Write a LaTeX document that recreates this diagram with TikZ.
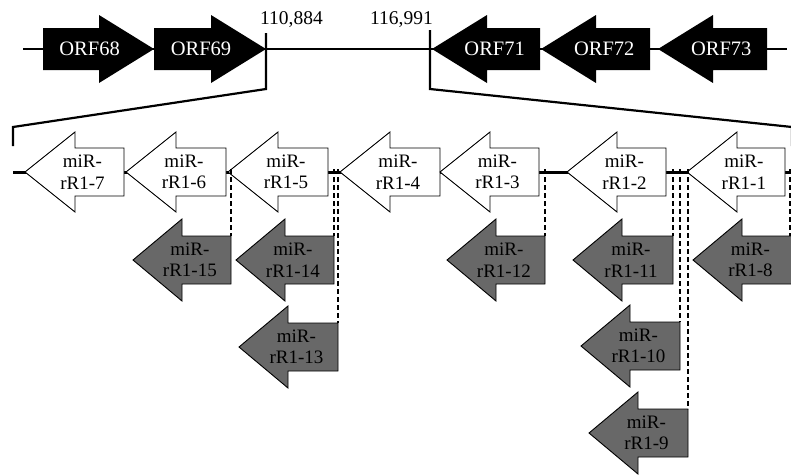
\documentclass[tikz,border=0pt]{standalone}
\usepackage{fontspec}
\setmainfont{Liberation Serif}
\usetikzlibrary{calc}
\definecolor{mirGrey}{RGB}{104,104,104}

% arrow-shaped gene: style, name, tail x, tip x, y, body half, head half, head length, label
\newcommand{\genearrow}[9]{%
  \pgfmathsetmacro\gaBase{#4-sign(#4-#3)*#8}%
  \path[#1] (#3,#5-#6) -- (\gaBase,#5-#6) -- (\gaBase,#5-#7) -- (#4,#5)
    -- (\gaBase,#5+#7) -- (\gaBase,#5+#6) -- (#3,#5+#6) -- cycle;
  \coordinate (#2-tail) at (#3,#5-#6);
  \node[#1 text] (#2) at ({#3+0.42*(#4-#3)},#5) {#9};}

\begin{document}
\begin{tikzpicture}[x=1pt, y=-1pt,
    orf/.style={fill=black},
    orf text/.style={inner sep=0pt, text=white, font=\fontsize{20.5}{22}\selectfont},
    mirw/.style={draw=black, fill=white, line width=0.9pt},
    mirg/.style={draw=black, fill=mirGrey, line width=0.9pt},
    mirw text/.style={inner sep=0pt, align=center, font=\fontsize{19}{21.5}\selectfont},
    mirg text/.style={mirw text},
    poslbl/.style={inner sep=0pt, font=\fontsize{19.5}{21}\selectfont},
    cutline/.style={line width=2.2pt},
    spine/.style={line width=2.2pt},
    link/.style={line width=1.4pt, dash pattern=on 5pt off 3pt}
  ]
  \useasboundingbox (0,0) rectangle (791,475);

  % genome region
  \coordinate (topL) at (23,49);
  \coordinate (topR) at (787,49);
  \draw[spine] (topL) -- (topR);
  \genearrow{orf}{orf68}{43}{154}{49}{21}{34}{55}{ORF68}
  \genearrow{orf}{orf69}{154}{266}{49}{21}{34}{55}{ORF69}
  \genearrow{orf}{orf71}{540}{432}{49}{21}{34}{55}{ORF71}
  \genearrow{orf}{orf72}{650}{541}{49}{21}{34}{55}{ORF72}
  \genearrow{orf}{orf73}{767}{658}{49}{21}{34}{55}{ORF73}

  \node[poslbl, anchor=base west] (p884) at (260,24) {110,884};
  \node[poslbl, anchor=base east] (p991) at (433,24) {116,991};

  % zoom lines
  \coordinate (tickL) at (266,33);
  \coordinate (cutL)  at (266,89);
  \coordinate (zoomL) at (13,127);
  \coordinate (tickR) at (430,30);
  \coordinate (cutR)  at (430,89);
  \coordinate (zoomR) at (792,127);
  \draw[cutline] (tickL) -- (cutL) -- (zoomL) -- ++(0,19);
  \draw[cutline] (tickR) -- (cutR) -- (zoomR) -- ++(0,19);

  % miRNA cluster
  \coordinate (spineL) at (13,172);
  \coordinate (spineR) at (791,172);
  \draw[line width=3pt] (spineL) -- (spineR);
  \genearrow{mirw}{r7}{124}{25}{172}{24}{40}{50}{miR-\\rR1-7}
  \genearrow{mirw}{r6}{226}{126}{172}{24}{40}{50}{miR-\\rR1-6}
  \genearrow{mirw}{r5}{328}{228}{172}{24}{40}{50}{miR-\\rR1-5}
  \genearrow{mirw}{r4}{440}{340}{172}{24}{40}{50}{miR-\\rR1-4}
  \genearrow{mirw}{r3}{539}{440}{172}{24}{40}{50}{miR-\\rR1-3}
  \genearrow{mirw}{r2}{666}{567}{172}{24}{40}{50}{miR-\\rR1-2}
  \genearrow{mirw}{r1}{785}{687}{172}{24}{40}{50}{miR-\\rR1-1}

  \genearrow{mirg}{r15}{231}{133}{260}{24}{41}{49}{miR-\\rR1-15}
  \genearrow{mirg}{r14}{334}{236}{260}{24}{41}{49}{miR-\\rR1-14}
  \genearrow{mirg}{r13}{338}{239}{347}{24}{41}{49}{miR-\\rR1-13}
  \genearrow{mirg}{r12}{545}{447}{260}{24}{41}{49}{miR-\\rR1-12}
  \genearrow{mirg}{r11}{673}{573}{260}{24}{41}{49}{miR-\\rR1-11}
  \genearrow{mirg}{r10}{680}{581}{346}{24}{41}{49}{miR-\\rR1-10}
  \genearrow{mirg}{r9}{688}{589}{433}{24}{41}{49}{miR-\\rR1-9}
  \genearrow{mirg}{r8}{792}{693}{260}{24}{41}{49}{miR-\\rR1-8}

  % positions on the cluster
  \draw[link] ([yshift=3pt]r15-tail |- r6) -- (r15-tail);
  \draw[link] ([yshift=3pt]r14-tail |- r5) -- (r14-tail);
  \draw[link] ([yshift=3pt]r13-tail |- r5) -- (r13-tail);
  \draw[link] ([yshift=3pt]r12-tail |- r3) -- (r12-tail);
  \draw[link] ([yshift=3pt]r11-tail |- r2) -- (r11-tail);
  \draw[link] ([yshift=3pt]r10-tail |- r2) -- (r10-tail);
  \draw[link] ([yshift=3pt]r9-tail |- r2)  -- (r9-tail);
  \draw[link] ([xshift=-2pt,yshift=3pt]r8-tail |- r1) -- ([xshift=-2pt]r8-tail);
\end{tikzpicture}
\end{document}
